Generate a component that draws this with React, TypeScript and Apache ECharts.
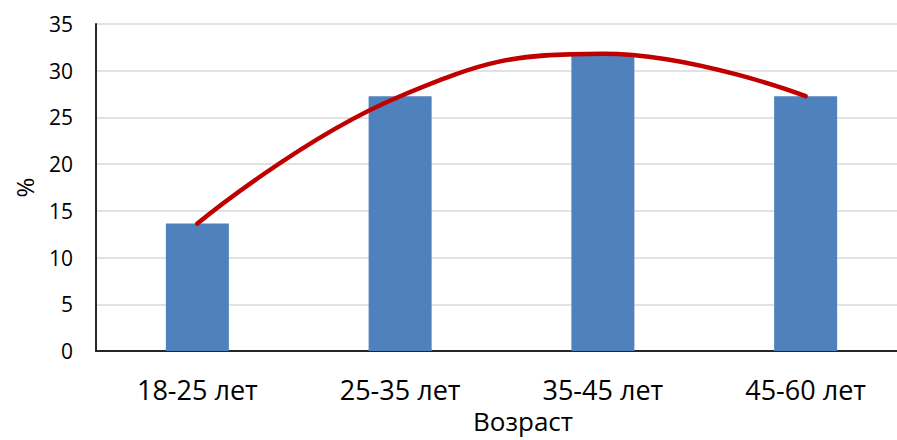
import React, { useEffect, useRef } from "react";
import * as echarts from "echarts";

const categories = ["18-25 лет", "25-35 лет", "35-45 лет", "45-60 лет"];
const shares = [13.64, 27.27, 31.82, 27.27];
const yTicks = { min: 0, max: 35, interval: 5 };
const xTitle = "Возраст";
const yTitle = "%";

const FONT = "'Open Sans', 'Noto Sans', sans-serif";

export default function App() {
  const ref = useRef<HTMLDivElement>(null);

  useEffect(() => {
    if (!ref.current) return;
    const chart = echarts.init(ref.current, null, { renderer: "svg" });
    chart.setOption({
      animation: false,
      backgroundColor: "#ffffff",
      // the plot runs slightly past the visible right edge
      grid: { left: 96, right: 2, top: 24, bottom: 89, containLabel: false },
      xAxis: {
        type: "category",
        data: categories,
        axisLine: { show: true, lineStyle: { color: "#262626", width: 2 } },
        axisTick: { show: false },
        axisLabel: {
          color: "#000000",
          fontFamily: FONT,
          fontSize: 27,
          margin: 25,
        },
        splitLine: { show: false },
      },
      yAxis: {
        type: "value",
        min: yTicks.min,
        max: yTicks.max,
        interval: yTicks.interval,
        name: yTitle,
        nameLocation: "middle",
        nameGap: 60,
        nameRotate: 90,
        nameTextStyle: { color: "#000000", fontFamily: FONT, fontSize: 24 },
        axisLine: { show: true, lineStyle: { color: "#262626", width: 2 } },
        axisTick: { show: false },
        axisLabel: {
          color: "#000000",
          fontFamily: FONT,
          fontSize: 21,
          margin: 23,
        },
        splitLine: { show: true, lineStyle: { color: "#d9d9d9", width: 1.5 } },
      },
      series: [
        {
          type: "bar",
          data: shares,
          barWidth: 63,
          itemStyle: { color: "#4f81bd" },
          z: 2,
        },
        {
          type: "line",
          data: shares,
          smooth: 0.45,
          symbol: "none",
          lineStyle: { color: "#c00000", width: 4.5, cap: "round" },
          z: 3,
        },
      ],
      graphic: [
        {
          type: "text",
          x: 523,
          y: 421,
          style: {
            text: xTitle,
            fontFamily: FONT,
            fontSize: 26,
            fill: "#000000",
            align: "center",
            verticalAlign: "middle",
          },
        },
      ],
    });
    return () => chart.dispose();
  }, []);

  return (
    <div
      style={{
        position: "absolute",
        left: 0,
        top: 0,
        width: 897,
        height: 440,
        overflow: "hidden",
      }}
    >
      <div ref={ref} style={{ width: 909, height: 440 }} />
    </div>
  );
}
